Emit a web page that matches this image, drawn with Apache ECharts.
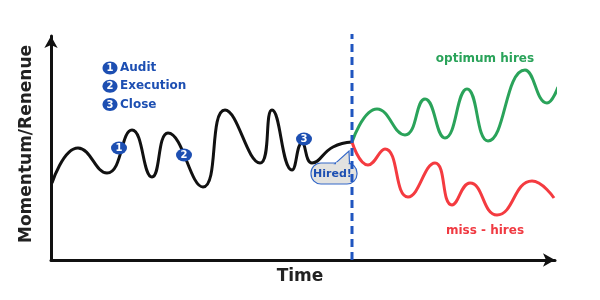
<!DOCTYPE html>
<html><head><meta charset="utf-8">
<script src="https://cdn.jsdelivr.net/npm/echarts@6/dist/echarts.min.js"></script>
<style>html,body{margin:0;padding:0;background:#fff}#c{width:600px;height:300px}</style>
</head><body><div id="c"></div>
<script>
// Time (x) / Momentum (y) readings (turning points), in chart units
const preHire = [[1,77],[27,112],[56,87],[81,130],[101,83],[117,127],[152,73],[174,150],[209,97],[221,150],[241,90],[251,117],[261,97],[282,113],[301,118]];
const optimumHires = [[301,118],[326,151],[354,125],[374,161],[394,122],[416,171],[437,119],[474,190],[496,157],[507,173]];
const missHires = [[301,118],[317,95],[334,111],[357,63],[384,97],[401,55],[419,77],[446,45],[481,79],[503,62]];
const hireTime = 301;
const hireLineTop = 226;
const stepBadges = [[68,112,'1'],[133,105,'2'],[253,121,'3']];
const stepNames = ['Audit','Execution','Close'];
const yTitle = 'Momentum/Renenue';
const xTitle = 'Time';

const BLUE = '#1d4fb2';
const FONT = '"DejaVu Sans", sans-serif';
const chart = echarts.init(document.getElementById('c'), null, {renderer: 'canvas'});

const graphic = [];
graphic.push({type:'text', x:27, y:144, rotation:Math.PI/2, z:10,
  style:{text:yTitle, font:'bold 17px '+FONT, fill:'#222', align:'center', verticalAlign:'middle'}});
graphic.push({type:'text', x:300, y:277, z:10,
  style:{text:xTitle, font:'bold 17px '+FONT, fill:'#222', align:'center', verticalAlign:'middle'}});
stepNames.forEach((n,i)=>{
  const cy = 68 + i*18.3;
  graphic.push({type:'ellipse', z:10, shape:{cx:110, cy:cy, rx:7.5, ry:6.5}, style:{fill:BLUE}});
  graphic.push({type:'text', x:110, y:cy+0.5, z:11, style:{text:String(i+1), font:'bold 10px '+FONT, fill:'#fff', align:'center', verticalAlign:'middle'}});
  graphic.push({type:'text', x:120, y:cy, z:10, style:{text:n, font:'bold 12px '+FONT, fill:BLUE, align:'left', verticalAlign:'middle'}});
});
graphic.push({type:'text', x:485, y:59, z:10, style:{text:'optimum hires', font:'bold 12px '+FONT, fill:'#2aa35a', align:'center', verticalAlign:'middle'}});
graphic.push({type:'text', x:485, y:231, z:10, style:{text:'miss - hires', font:'bold 12px '+FONT, fill:'#f03a42', align:'center', verticalAlign:'middle'}});
// Hired! bubble
graphic.push({type:'rect', z:4, shape:{x:311, y:163, width:46, height:21, r:10}, style:{fill:'#e2e2e0', stroke:'#3468c8', lineWidth:1.2}});
graphic.push({type:'polygon', z:4, shape:{points:[[335,163.6],[349,151],[349.5,163.6]]}, style:{fill:'#e2e2e0', stroke:'#3468c8', lineWidth:1.2}});
graphic.push({type:'rect', z:4, shape:{x:336, y:162.4, width:12.6, height:2.6}, style:{fill:'#e2e2e0'}});
graphic.push({type:'text', x:332.5, y:174, z:4, style:{text:'Hired!', font:'bold 11px '+FONT, fill:BLUE, align:'center', verticalAlign:'middle'}});

const axisCommon = {
  type:'value', min:0,
  axisLine:{show:true, symbol:['none','arrow'], symbolSize:[10,12], lineStyle:{color:'#111', width:3}},
  axisTick:{show:false}, axisLabel:{show:false}, splitLine:{show:false}
};

chart.setOption({
  animation:false,
  grid:{left:51, right:45, top:36, bottom:40},
  xAxis:Object.assign({}, axisCommon, {max:504}),
  yAxis:Object.assign({}, axisCommon, {max:224}),
  graphic: graphic,
  series:[
    {type:'line', data:preHire, smooth:0.5, symbol:'none', z:2, clip:false, lineStyle:{color:'#111', width:3}},
    {type:'line', data:optimumHires, smooth:0.5, symbol:'none', z:2, clip:false, lineStyle:{color:'#2aa35a', width:3}},
    {type:'line', data:missHires, smooth:0.5, symbol:'none', z:2, clip:false, lineStyle:{color:'#f43b40', width:3}},
    {type:'line', data:[[hireTime,0],[hireTime,hireLineTop]], symbol:'none', z:6, clip:false, lineStyle:{color:'#1f55c0', width:3, type:[8,5]}},
    {type:'scatter', data:stepBadges, z:7, clip:false,
      symbol:'path://M0,6a7.5,6 0 1,0 15,0a7.5,6 0 1,0 -15,0', symbolSize:[16,13],
      itemStyle:{color:BLUE, opacity:1},
      label:{show:true, position:'inside', formatter:p=>p.value[2], color:'#fff', fontWeight:'bold', fontSize:10, fontFamily:FONT}}
  ]
});
</script></body></html>
